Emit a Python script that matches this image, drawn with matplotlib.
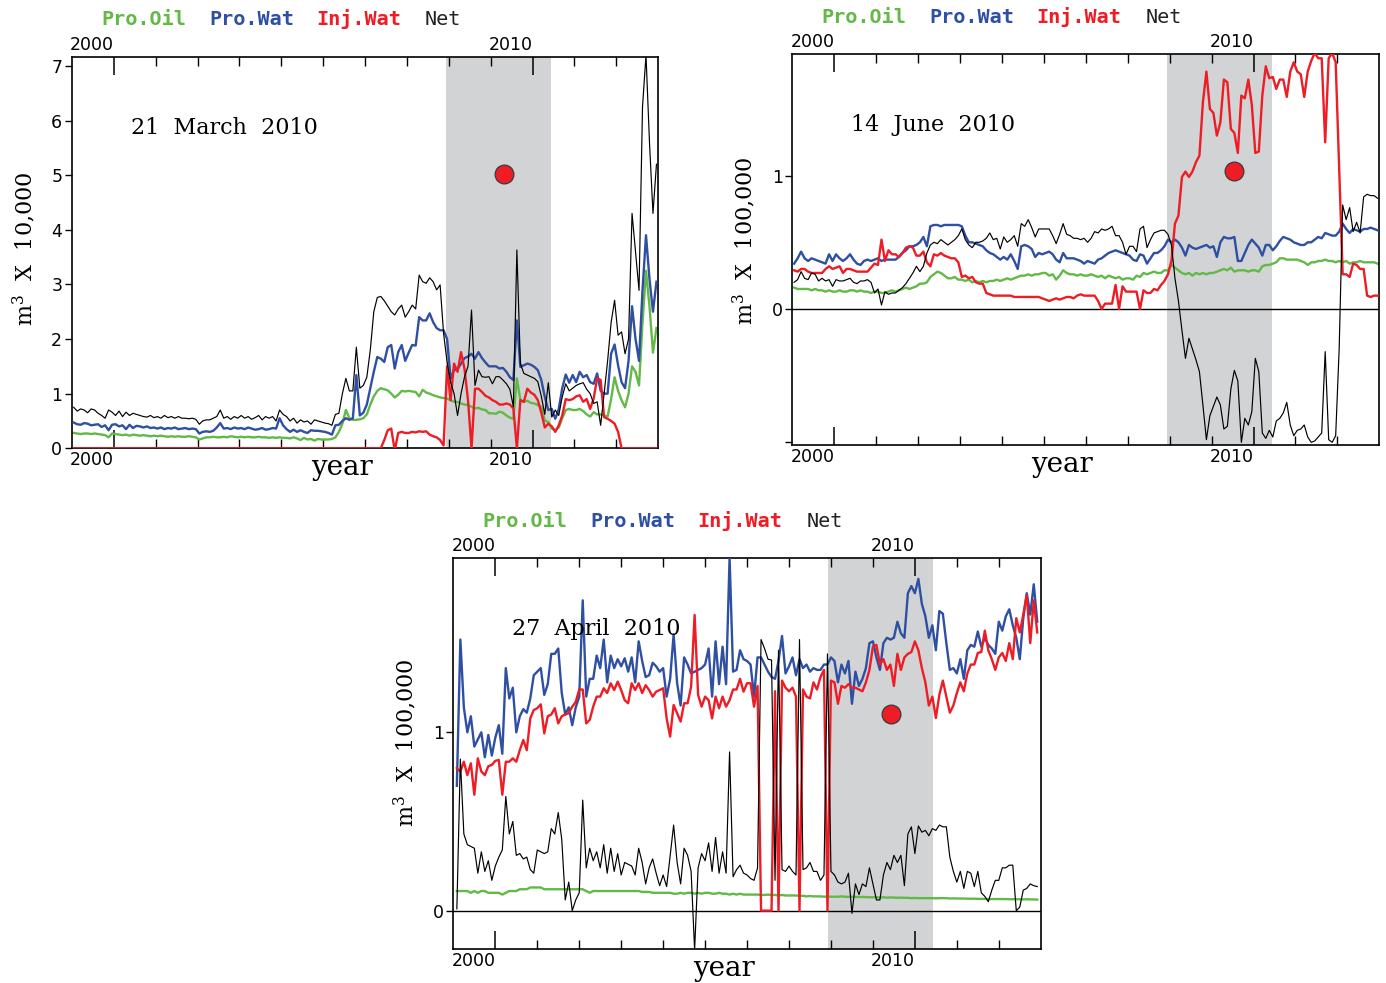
import numpy as np
import matplotlib
matplotlib.use("Agg")
import matplotlib.pyplot as plt

plt.rcParams['mathtext.fontset'] = 'dejavuserif'

GREEN = '#62b946'
BLUE = '#2e4fa2'
RED = '#ee1c25'
SHADE = '#d1d3d4'

# ---------------- data (monthly values, one row per year) ----------------
# panel 1 : 21 March 2010, m3 x 10,000   (1999 .. 2012, 168 months)
p1_oil = [
    0.28, 0.27, 0.26, 0.27, 0.27, 0.26, 0.27, 0.26, 0.25, 0.24, 0.20, 0.27,
    0.26, 0.25, 0.24, 0.25, 0.23, 0.25, 0.24, 0.23, 0.24, 0.23, 0.22, 0.23,
    0.22, 0.23, 0.22, 0.21, 0.22, 0.21, 0.22, 0.21, 0.21, 0.22, 0.21, 0.20,
    0.16, 0.18, 0.20, 0.20, 0.21, 0.20, 0.20, 0.21, 0.20, 0.22, 0.21, 0.20,
    0.21, 0.20, 0.21, 0.20, 0.20, 0.21, 0.20, 0.20, 0.19, 0.20, 0.19, 0.20,
    0.19, 0.19, 0.18, 0.20, 0.18, 0.15, 0.19, 0.16, 0.17, 0.14, 0.17, 0.16,
    0.16, 0.16, 0.17, 0.20, 0.30, 0.45, 0.70, 0.55, 0.52, 0.52, 0.53, 0.55,
    0.62, 0.80, 0.95, 1.05, 1.10, 1.08, 1.06, 1.00, 0.93, 0.98, 1.05, 1.04,
    1.05, 1.04, 1.03, 0.95, 1.07, 1.02, 1.00, 0.97, 0.95, 0.93, 0.92, 0.91,
    0.88, 0.85, 0.85, 0.82, 0.80, 0.79, 0.76, 0.73, 0.74, 0.71, 0.70, 0.64,
    0.64, 0.63, 0.67, 0.65, 0.60, 0.56, 0.54, 1.28, 0.88, 0.85, 0.87, 0.83,
    0.82, 0.79, 0.76, 0.51, 0.48, 0.36, 0.33, 0.38, 0.55, 0.70, 0.72, 0.70,
    0.70, 0.72, 0.68, 0.62, 0.58, 0.66, 0.62, 0.62, 0.60, 0.58, 0.90, 1.30,
    1.05, 0.88, 0.75, 1.00, 1.50, 1.40, 1.15, 2.30, 3.25, 2.60, 1.75, 2.20,
]
p1_prowat = [
    0.47, 0.44, 0.43, 0.46, 0.45, 0.42, 0.43, 0.44, 0.39, 0.42, 0.33, 0.43,
    0.44, 0.40, 0.42, 0.35, 0.43, 0.37, 0.41, 0.40, 0.38, 0.40, 0.37, 0.38,
    0.36, 0.38, 0.35, 0.37, 0.36, 0.38, 0.35, 0.36, 0.37, 0.35, 0.36, 0.35,
    0.27, 0.30, 0.31, 0.30, 0.32, 0.38, 0.46, 0.36, 0.37, 0.35, 0.38, 0.36,
    0.37, 0.35, 0.38, 0.36, 0.34, 0.35, 0.37, 0.34, 0.35, 0.37, 0.36, 0.55,
    0.42, 0.35, 0.30, 0.34, 0.30, 0.33, 0.30, 0.28, 0.33, 0.32, 0.32, 0.31,
    0.30, 0.28, 0.25, 0.42, 0.43, 0.50, 0.55, 0.52, 0.55, 1.34, 0.60, 0.65,
    0.80, 1.10, 1.40, 1.67, 1.64, 1.58, 1.85, 1.89, 1.46, 1.76, 1.89, 1.60,
    1.75, 1.89, 1.88, 2.40, 2.34, 2.34, 2.47, 2.31, 2.20, 2.16, 2.16, 2.00,
    1.28, 1.43, 1.45, 1.55, 1.65, 1.68, 1.73, 1.64, 1.76, 1.65, 1.57, 1.50,
    1.50, 1.50, 1.46, 1.47, 1.40, 1.30, 1.25, 2.34, 1.49, 1.52, 1.55, 1.53,
    1.49, 1.43, 1.25, 0.94, 0.70, 0.72, 0.54, 0.72, 1.10, 1.35, 1.20, 1.34,
    1.21, 1.40, 1.30, 1.34, 1.21, 1.18, 1.37, 1.05, 1.00, 1.00, 1.73, 1.90,
    1.52, 1.21, 1.10, 1.60, 2.60, 2.00, 1.60, 2.89, 3.90, 3.10, 2.50, 3.05,
]
p1_injwat = [
    0, 0, 0, 0, 0, 0, 0, 0, 0, 0, 0, 0,
    0, 0, 0, 0, 0, 0, 0, 0, 0, 0, 0, 0,
    0, 0, 0, 0, 0, 0, 0, 0, 0, 0, 0, 0,
    0, 0, 0, 0, 0, 0, 0, 0, 0, 0, 0, 0,
    0, 0, 0, 0, 0, 0, 0, 0, 0, 0, 0, 0,
    0, 0, 0, 0, 0, 0, 0, 0, 0, 0, 0, 0,
    0, 0, 0, 0, 0, 0, 0, 0, 0, 0, 0, 0,
    0, 0, 0, 0, 0, 0.15, 0.33, 0.36, -0.04, 0.28, 0.30, 0.28,
    0.28, 0.30, 0.29, 0.31, 0.30, 0.31, 0.25, 0.22, 0.20, 0.15, 0.05, 1.50,
    0.88, 1.55, 1.40, 1.76, 1.45, 0.88, 0.00, 1.09, 1.09, 1.03, 0.96, 0.93,
    0.88, 0.85, 0.80, 0.80, 0.82, 0.80, 0.73, 0.00, 0.88, 0.85, 1.09, 1.02,
    0.98, 0.88, 0.65, 0.38, 0.45, 0.40, 0.30, 0.42, 0.60, 0.90, 0.88, 0.90,
    0.95, 0.97, 0.85, 0.90, 0.72, 0.91, 1.28, 1.25, 0.57, 0.54, 0.50, 0.45,
    0.30, 0, 0, 0, 0, 0, 0, 0, 0, 0, 0, 0,
]
p1_net = [
    0.75, 0.68, 0.72, 0.70, 0.65, 0.72, 0.70, 0.64, 0.60, 0.55, 0.70, 0.66,
    0.60, 0.68, 0.58, 0.66, 0.60, 0.64, 0.62, 0.60, 0.58, 0.57, 0.60, 0.56,
    0.58, 0.55, 0.60, 0.56, 0.58, 0.55, 0.58, 0.55, 0.55, 0.54, 0.55, 0.53,
    0.44, 0.50, 0.52, 0.52, 0.55, 0.58, 0.70, 0.55, 0.58, 0.53, 0.58, 0.55,
    0.60, 0.55, 0.58, 0.53, 0.56, 0.60, 0.52, 0.58, 0.55, 0.58, 0.50, 0.70,
    0.62, 0.58, 0.50, 0.55, 0.46, 0.52, 0.48, 0.50, 0.44, 0.52, 0.50, 0.48,
    0.46, 0.45, 0.42, 0.62, 0.64, 1.00, 1.28, 1.05, 1.05, 1.85, 1.10, 1.15,
    1.30, 1.80, 2.50, 2.76, 2.78, 2.70, 2.60, 2.50, 2.44, 2.55, 2.62, 2.40,
    2.50, 2.62, 2.55, 3.17, 3.05, 3.02, 3.12, 3.05, 2.90, 2.99, 2.10, 1.58,
    1.21, 1.00, 0.60, 1.00, 1.31, 1.50, 2.53, 1.15, 1.43, 1.31, 1.30, 1.31,
    1.18, 1.31, 1.31, 1.25, 1.18, 1.08, 0.76, 3.63, 1.55, 1.37, 1.34, 1.31,
    1.28, 1.22, 0.95, 0.62, 1.20, 0.57, 0.70, 0.60, 0.94, 1.18, 1.05, 1.10,
    1.15, 1.18, 1.20, 1.08, 1.00, 0.82, 0.85, 0.42, 1.00, 1.60, 2.30, 2.71,
    2.07, 2.13, 1.73, 2.00, 4.30, 3.60, 2.89, 6.25, 7.20, 5.60, 4.30, 5.20,
]

# panel 2 : 14 June 2010, m3 x 100,000   (1999 .. 2012, 168 months)
p2_oil = [
    0.16, 0.15, 0.15, 0.15, 0.15, 0.14, 0.15, 0.14, 0.14, 0.13, 0.14, 0.13,
    0.13, 0.14, 0.13, 0.13, 0.14, 0.14, 0.13, 0.14, 0.13, 0.13, 0.12, 0.13,
    0.13, 0.12, 0.12, 0.13, 0.14, 0.13, 0.14, 0.15, 0.16, 0.15, 0.16, 0.17,
    0.19, 0.19, 0.20, 0.24, 0.26, 0.28, 0.27, 0.25, 0.23, 0.23, 0.24, 0.22,
    0.22, 0.21, 0.22, 0.20, 0.21, 0.20, 0.21, 0.20, 0.21, 0.21, 0.22, 0.21,
    0.22, 0.23, 0.22, 0.23, 0.24, 0.25, 0.25, 0.26, 0.25, 0.26, 0.26, 0.27,
    0.27, 0.25, 0.26, 0.22, 0.25, 0.29, 0.27, 0.26, 0.26, 0.25, 0.26, 0.25,
    0.25, 0.26, 0.25, 0.24, 0.25, 0.23, 0.25, 0.24, 0.23, 0.24, 0.22, 0.23,
    0.23, 0.22, 0.25, 0.24, 0.27, 0.26, 0.27, 0.28, 0.27, 0.27, 0.29, 0.29,
    0.33, 0.31, 0.29, 0.27, 0.26, 0.27, 0.25, 0.27, 0.26, 0.27, 0.26, 0.27,
    0.27, 0.28, 0.29, 0.30, 0.29, 0.31, 0.28, 0.29, 0.29, 0.29, 0.28, 0.29,
    0.29, 0.28, 0.32, 0.33, 0.33, 0.34, 0.35, 0.38, 0.38, 0.37, 0.37, 0.37,
    0.37, 0.36, 0.35, 0.33, 0.35, 0.35, 0.36, 0.36, 0.37, 0.36, 0.36, 0.35,
    0.36, 0.35, 0.36, 0.34, 0.35, 0.35, 0.36, 0.35, 0.35, 0.35, 0.35, 0.34,
]
p2_prowat = [
    0.34, 0.38, 0.43, 0.38, 0.36, 0.38, 0.37, 0.36, 0.35, 0.34, 0.41, 0.36,
    0.41, 0.38, 0.36, 0.38, 0.41, 0.37, 0.34, 0.33, 0.36, 0.37, 0.36, 0.37,
    0.38, 0.36, 0.37, 0.37, 0.37, 0.37, 0.39, 0.42, 0.44, 0.47, 0.47, 0.48,
    0.50, 0.54, 0.47, 0.62, 0.63, 0.63, 0.62, 0.63, 0.63, 0.63, 0.63, 0.63,
    0.62, 0.55, 0.50, 0.50, 0.49, 0.48, 0.47, 0.44, 0.42, 0.41, 0.39, 0.37,
    0.39, 0.37, 0.41, 0.36, 0.30, 0.47, 0.48, 0.47, 0.45, 0.39, 0.42, 0.41,
    0.42, 0.43, 0.41, 0.37, 0.35, 0.42, 0.38, 0.38, 0.38, 0.37, 0.36, 0.34,
    0.36, 0.35, 0.34, 0.37, 0.38, 0.40, 0.42, 0.43, 0.44, 0.43, 0.42, 0.41,
    0.40, 0.37, 0.36, 0.41, 0.40, 0.34, 0.38, 0.42, 0.42, 0.44, 0.47, 0.52,
    0.50, 0.52, 0.50, 0.46, 0.40, 0.48, 0.46, 0.45, 0.46, 0.47, 0.48, 0.46,
    0.47, 0.39, 0.50, 0.54, 0.53, 0.53, 0.54, 0.36, 0.36, 0.42, 0.48, 0.52,
    0.49, 0.46, 0.40, 0.48, 0.48, 0.44, 0.47, 0.51, 0.54, 0.53, 0.52, 0.50,
    0.49, 0.48, 0.48, 0.50, 0.50, 0.52, 0.54, 0.53, 0.57, 0.56, 0.55, 0.55,
    0.58, 0.64, 0.60, 0.57, 0.60, 0.59, 0.58, 0.60, 0.60, 0.61, 0.60, 0.59,
]
p2_injwat = [
    0.29, 0.28, 0.30, 0.30, 0.28, 0.27, 0.27, 0.27, 0.27, 0.30, 0.32, 0.30,
    0.31, 0.32, 0.27, 0.30, 0.30, 0.29, 0.28, 0.28, 0.28, 0.28, 0.31, 0.34,
    0.33, 0.52, 0.36, 0.44, 0.41, 0.41, 0.39, 0.42, 0.46, 0.47, 0.46, 0.40,
    0.40, 0.43, 0.35, 0.32, 0.41, 0.40, 0.42, 0.40, 0.39, 0.38, 0.38, 0.35,
    0.24, 0.25, 0.23, 0.24, 0.20, 0.19, 0.19, 0.12, 0.11, 0.10, 0.10, 0.10,
    0.10, 0.10, 0.10, 0.09, 0.09, 0.09, 0.09, 0.09, 0.09, 0.09, 0.09, 0.08,
    0.07, 0.06, 0.07, 0.08, 0.07, 0.08, 0.09, 0.09, 0.08, 0.10, 0.11, 0.10,
    0.10, 0.10, 0.10, 0.06, 0.00, 0.04, 0.04, 0.04, 0.18, 0.00, 0.17, 0.13,
    0.13, 0.13, 0.13, 0.00, 0.14, 0.12, 0.12, 0.15, 0.14, 0.18, 0.21, 0.26,
    0.36, 0.64, 0.70, 0.99, 1.03, 0.99, 1.03, 1.10, 1.15, 1.55, 1.78, 1.50,
    1.47, 1.30, 1.40, 1.72, 1.70, 1.35, 1.32, 1.17, 1.60, 1.58, 1.72, 1.53,
    1.17, 1.18, 1.60, 1.82, 1.73, 1.74, 1.65, 1.72, 1.72, 1.59, 1.78, 1.85,
    1.78, 1.76, 1.59, 1.78, 1.86, 1.92, 1.88, 1.88, 1.25, 1.88, 1.92, 1.85,
    1.05, 0.26, 0.26, 0.24, 0.34, 0.33, 0.30, 0.30, 0.10, 0.09, 0.10, 0.10,
]
p2_net = [
    0.20, 0.22, 0.28, 0.23, 0.22, 0.27, 0.26, 0.21, 0.23, 0.21, 0.22, 0.17,
    0.22, 0.21, 0.21, 0.22, 0.23, 0.20, 0.19, 0.21, 0.21, 0.22, 0.20, 0.12,
    0.15, 0.03, 0.13, 0.11, 0.12, 0.12, 0.14, 0.16, 0.19, 0.23, 0.27, 0.32,
    0.28, 0.32, 0.42, 0.48, 0.50, 0.49, 0.52, 0.50, 0.48, 0.50, 0.52, 0.55,
    0.60, 0.52, 0.48, 0.46, 0.50, 0.50, 0.51, 0.53, 0.57, 0.52, 0.53, 0.45,
    0.54, 0.50, 0.52, 0.55, 0.47, 0.64, 0.62, 0.67, 0.61, 0.54, 0.60, 0.60,
    0.60, 0.60, 0.55, 0.49, 0.56, 0.64, 0.56, 0.55, 0.53, 0.53, 0.52, 0.53,
    0.50, 0.53, 0.58, 0.57, 0.60, 0.59, 0.60, 0.62, 0.55, 0.55, 0.50, 0.41,
    0.47, 0.47, 0.43, 0.60, 0.62, 0.46, 0.52, 0.57, 0.58, 0.59, 0.59, 0.56,
    0.48, 0.23, 0.06, -0.16, -0.37, -0.22, -0.30, -0.38, -0.47, -0.72, -0.98, -0.80,
    -0.73, -0.66, -0.72, -0.90, -0.88, -0.60, -0.46, -0.54, -1.00, -0.82, -0.87, -0.77,
    -0.37, -0.47, -0.93, -0.97, -0.91, -0.96, -0.84, -0.82, -0.78, -0.70, -0.87, -0.95,
    -0.91, -0.90, -0.87, -0.96, -1.00, -0.99, -0.96, -0.93, -0.32, -0.98, -1.00, -0.95,
    -0.30, 0.78, 0.67, 0.76, 0.58, 0.65, 0.57, 0.84, 0.86, 0.85, 0.85, 0.83,
]

# panel 3 : 27 April 2010, m3 x 100,000   (Feb 1999 .. Dec 2012, 167 months)
p3_oil = [
    0.11, 0.11, 0.11, 0.11, 0.10, 0.11, 0.10, 0.11, 0.11, 0.10, 0.10, 0.10,
    0.10, 0.09, 0.10, 0.11, 0.11, 0.11, 0.12, 0.12, 0.12, 0.13, 0.13, 0.13,
    0.13, 0.12, 0.12, 0.12, 0.12, 0.12, 0.12, 0.12, 0.12, 0.12, 0.12, 0.12,
    0.12, 0.11, 0.10, 0.11, 0.11, 0.11, 0.11, 0.11, 0.11, 0.11, 0.11, 0.11,
    0.11, 0.11, 0.11, 0.11, 0.11, 0.105, 0.105, 0.105, 0.10, 0.10, 0.10, 0.10,
    0.10, 0.10, 0.095, 0.095, 0.10, 0.095, 0.10, 0.10, 0.095, 0.10, 0.095, 0.10,
    0.10, 0.095, 0.095, 0.10, 0.095, 0.095, 0.09, 0.095, 0.09, 0.095, 0.09, 0.09,
    0.09, 0.09, 0.09, 0.088, 0.088, 0.09, 0.088, 0.088, 0.085, 0.088, 0.085, 0.085,
    0.085, 0.085, 0.083, 0.083, 0.08, 0.082, 0.08, 0.08, 0.08, 0.078, 0.08, 0.078,
    0.078, 0.078, 0.08, 0.078, 0.077, 0.078, 0.077, 0.076, 0.077, 0.076, 0.075, 0.075,
    0.075, 0.074, 0.075, 0.073, 0.074, 0.073, 0.072, 0.073, 0.072, 0.072, 0.07, 0.071,
    0.07, 0.07, 0.07, 0.07, 0.07, 0.069, 0.07, 0.07, 0.07, 0.068, 0.069, 0.068,
    0.068, 0.068, 0.067, 0.067, 0.067, 0.066, 0.066, 0.066, 0.065, 0.065, 0.065, 0.065,
    0.065, 0.065, 0.064, 0.064, 0.064, 0.064, 0.063, 0.064, 0.063, 0.063, 0.062,
]
p3_prowat = [
    0.70, 1.52, 1.14, 1.00, 1.09, 0.92, 0.96, 1.00, 0.86, 0.985, 0.87, 0.97,
    1.04, 0.88, 1.36, 1.19, 1.25, 1.00, 1.09, 1.13, 1.11, 1.19, 1.32, 1.34,
    1.36, 1.21, 1.27, 1.44, 1.44, 1.47, 1.22, 1.10, 1.14, 1.04, 1.14, 1.20,
    1.74, 1.20, 1.30, 1.30, 1.43, 1.36, 1.52, 1.28, 1.43, 1.36, 1.41, 1.37,
    1.415, 1.34, 1.42, 1.28, 1.51, 1.40, 1.31, 1.32, 1.39, 1.37, 1.34, 1.36,
    1.20, 1.30, 1.55, 1.275, 1.15, 1.42, 1.38, 1.33, 1.34, 1.35, 1.36, 1.38,
    1.47, 1.20, 1.51, 1.27, 1.48, 1.27, 1.98, 1.34, 1.35, 1.46, 1.41, 1.40,
    1.38, 1.20, 1.42, 1.42, 1.38, 1.34, 1.31, 1.30, 1.40, 1.54, 1.33, 1.37,
    1.42, 1.32, 1.41, 1.36, 1.38, 1.34, 1.36, 1.35, 1.35, 1.38, 1.38, 1.42,
    1.40, 1.28, 1.38, 1.33, 1.40, 1.16, 1.34, 1.26, 1.30, 1.36, 1.50, 1.51,
    1.42, 1.35, 1.50, 1.53, 1.52, 1.53, 1.62, 1.555, 1.53, 1.78, 1.82, 1.78,
    1.86, 1.72, 1.65, 1.53, 1.60, 1.46, 1.68, 1.665, 1.50, 1.35, 1.36, 1.33,
    1.41, 1.30, 1.46, 1.49, 1.48, 1.565, 1.48, 1.53, 1.49, 1.47, 1.44, 1.62,
    1.57, 1.65, 1.69, 1.60, 1.53, 1.41, 1.64, 1.78, 1.66, 1.83, 1.62,
]
p3_injwat = [
    0.80, 0.78, 0.835, 0.76, 0.826, 0.65, 0.854, 0.78, 0.76, 0.81, 0.817, 0.84,
    0.845, 0.65, 0.835, 0.835, 0.854, 0.835, 0.90, 0.957, 0.90, 1.078, 1.125, 1.135,
    1.157, 0.994, 1.09, 1.10, 1.135, 1.05, 1.09, 1.10, 1.107, 1.144, 1.17, 1.24,
    1.24, 1.05, 1.07, 1.144, 1.20, 1.20, 1.247, 1.22, 1.275, 1.237, 1.284, 1.237,
    1.18, 1.163, 1.275, 1.237, 1.275, 1.22, 1.264, 1.237, 1.20, 1.228, 1.237, 1.247,
    1.078, 0.976, 1.153, 1.107, 1.06, 1.163, 1.163, 1.256, 1.658, 1.21, 1.144, 1.20,
    1.18, 1.078, 1.20, 1.135, 1.20, 1.144, 1.18, 1.24, 1.24, 1.30, 1.228, 1.275,
    1.275, 1.144, 1.26, 0.0, 0.0, 0.0, 0.0, 1.23, 0.0, 1.29, 1.25, 1.23,
    1.25, 1.20, 0.0, 1.24, 1.20, 1.19, 1.28, 1.24, 1.31, 1.35, 0.0, 1.29,
    1.28, 1.16, 1.26, 1.25, 1.27, 1.25, 1.25, 1.24, 1.23, 1.28, 1.35, 1.48,
    1.49, 1.38, 1.41, 1.35, 1.38, 1.26, 1.44, 1.35, 1.42, 1.44, 1.45, 1.51,
    1.46, 1.36, 1.28, 1.15, 1.20, 1.08, 1.21, 1.29, 1.20, 1.11, 1.15, 1.22,
    1.28, 1.23, 1.33, 1.38, 1.38, 1.445, 1.45, 1.57, 1.46, 1.41, 1.35, 1.42,
    1.445, 1.40, 1.50, 1.41, 1.64, 1.56, 1.66, 1.77, 1.50, 1.74, 1.56,
]
p3_net = [
    0.01, 0.85, 0.43, 0.37, 0.36, 0.35, 0.21, 0.33, 0.22, 0.28, 0.17, 0.25,
    0.30, 0.34, 0.64, 0.43, 0.50, 0.31, 0.32, 0.29, 0.30, 0.23, 0.21, 0.34,
    0.33, 0.32, 0.33, 0.46, 0.43, 0.55, 0.40, 0.06, 0.16, 0.00, 0.06, 0.10,
    0.62, 0.24, 0.35, 0.28, 0.33, 0.24, 0.37, 0.21, 0.35, 0.22, 0.32, 0.20,
    0.27, 0.26, 0.25, 0.20, 0.35, 0.27, 0.15, 0.24, 0.29, 0.21, 0.14, 0.20,
    0.135, 0.31, 0.48, 0.27, 0.15, 0.35, 0.31, 0.22, -0.22, 0.24, 0.32, 0.28,
    0.38, 0.22, 0.41, 0.21, 0.33, 0.21, 0.89, 0.19, 0.23, 0.255, 0.21, 0.20,
    0.18, 0.17, 0.24, 1.52, 1.47, 1.41, 1.405, 0.17, 1.46, 0.23, 0.22, 0.25,
    0.22, 0.20, 1.52, 0.23, 0.24, 0.27, 0.22, 0.22, 0.17, 0.20, 1.44, 0.22,
    0.20, 0.16, 0.15, 0.16, 0.21, -0.015, 0.15, 0.09, 0.15, 0.135, 0.24, 0.15,
    0.06, 0.06, 0.20, 0.27, 0.23, 0.31, 0.27, 0.31, 0.14, 0.43, 0.47, 0.32,
    0.475, 0.44, 0.45, 0.42, 0.46, 0.45, 0.48, 0.47, 0.47, 0.30, 0.22, 0.16,
    0.22, 0.125, 0.22, 0.21, 0.135, 0.22, 0.10, 0.08, 0.05, 0.115, 0.17, 0.17,
    0.24, 0.24, 0.255, 0.255, 0.00, 0.02, 0.115, 0.125, 0.15, 0.14, 0.135,
]

# event dates, red dots and shaded windows
event_titles = ['21  March  2010', '14  June  2010', '27  April  2010']
dot_year = [2009.32, 2009.54, 2009.42]
dot_value = [5.02, 1.035, 1.10]
shade_span = (2007.93, 2010.43)
first_month = [0.5, 0.5, 1.0]   # months after Jan 1999 of the first sample

series = [
    (p1_oil, p1_prowat, p1_injwat, p1_net),
    (p2_oil, p2_prowat, p2_injwat, p2_net),
    (p3_oil, p3_prowat, p3_injwat, p3_net),
]
for group in series:
    n = len(group[0])
    assert all(len(s) == n for s in group), [len(s) for s in group]

# axes rectangles in figure fraction, y-limits, ticks
rects = [
    [0.0519, 0.5440, 0.4230, 0.3984],
    [0.5717, 0.5473, 0.4235, 0.3975],
    [0.3271, 0.0346, 0.4238, 0.3975],
]
ylims = [(0, 7.17), (-1.02, 1.91), (-0.215, 1.976)]
yticks = [[0, 1, 2, 3, 4, 5, 6, 7], [-1, 0, 1], [0, 1]]
ytlabels = [['0', '1', '2', '3', '4', '5', '6', '7'], ['', '0', '1'], ['0', '1']]
ylabels = ['m$^3$  X  10,000', 'm$^3$  X  100,000', 'm$^3$  X  100,000']
ylab_y = [0.508, 0.523, 0.528]

head_x = [0.0495, 0.234, 0.416, 0.601]
head_txt = ['Pro.Oil', 'Pro.Wat', 'Inj.Wat', 'Net']
head_col = [GREEN, BLUE, RED, '#222222']
head_wt = ['bold', 'bold', 'bold', 'normal']

fig = plt.figure(figsize=(13.86, 9.83), dpi=100)

for k in range(3):
    ax = fig.add_axes(rects[k])
    oil, wat, inj, net = series[k]
    n = len(oil)
    years = 1999 + (np.arange(n) + first_month[k]) / 12.0

    ax.axvspan(*shade_span, color=SHADE, lw=0, zorder=0)
    if k > 0:
        ax.axhline(0, color='black', lw=1.0, zorder=1)

    ax.plot(years, oil, color=GREEN, lw=1.7, zorder=2)
    ax.plot(years, wat, color=BLUE, lw=1.7, zorder=3)
    ax.plot(years, inj, color=RED, lw=1.7, zorder=4)
    ax.plot(years, net, color='black', lw=0.85, zorder=5)
    ax.plot(dot_year[k], dot_value[k], 'o', ms=13.5, mfc=RED,
            mec='#3a3a3a', mew=0.9, zorder=10)

    ax.set_xlim(1999, 2013)
    ax.set_ylim(*ylims[k])
    ax.set_xticks([2000, 2010])
    ax.set_xticklabels(['2000', '2010'], ha='right')
    ax.set_xticks(range(2001, 2013), minor=True)
    ax.tick_params(axis='x', which='both', direction='in', top=True,
                   bottom=True, labeltop=True, labelbottom=True)
    ax.tick_params(axis='x', which='major', length=13, width=1.1,
                   labelsize=12.5, pad=2)
    ax.tick_params(axis='x', which='minor', length=6.5, width=1.0)
    ax.set_yticks(yticks[k])
    ax.set_yticklabels(ytlabels[k])
    ax.tick_params(axis='y', direction='out', length=5, width=1.0,
                   labelsize=12.5, pad=2)
    for s in ax.spines.values():
        s.set_linewidth(1.2)

    # header "legend"
    for xf, txt, col, wt in zip(head_x, head_txt, head_col, head_wt):
        ax.text(xf, 1.095, txt, color=col, fontsize=14.5, fontweight=wt,
                family='DejaVu Sans Mono', transform=ax.transAxes,
                va='center', ha='left')

    ax.text(0.10, 0.818, event_titles[k], family='DejaVu Serif',
            fontsize=16, transform=ax.transAxes, va='center', ha='left')
    ax.text(0.46, -0.05, 'year', family='DejaVu Serif', fontsize=20,
            transform=ax.transAxes, va='center', ha='center')
    ax.text(-0.081, ylab_y[k], ylabels[k], family='DejaVu Serif',
            fontsize=16, rotation=90, transform=ax.transAxes,
            va='center', ha='center')

fig.savefig('out.png', dpi=100, facecolor='white')
